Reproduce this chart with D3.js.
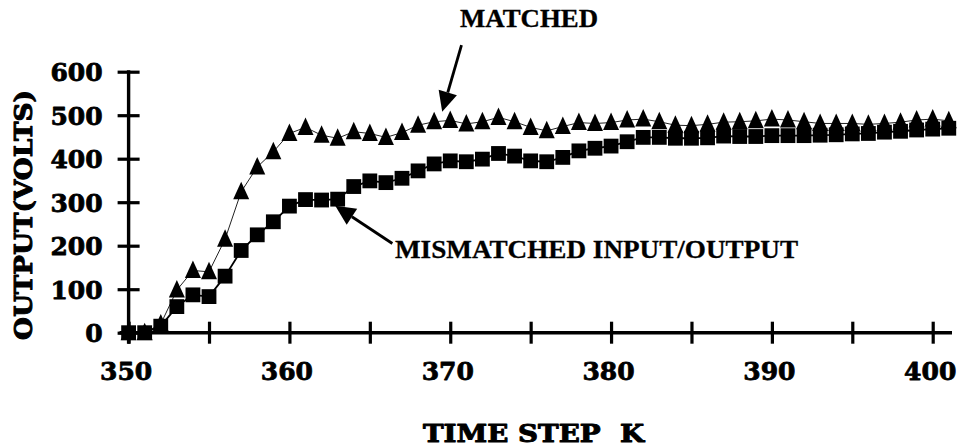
<!DOCTYPE html>
<html>
<head>
<meta charset="utf-8">
<script src="https://cdn.jsdelivr.net/npm/d3@7"></script>
<style>
  html, body { margin: 0; padding: 0; background: #fff; }
  svg { display: block; }
</style>
</head>
<body>
<svg id="chart" width="968" height="447"></svg>
<script>
// Time steps K
const steps = [350, 351, 352, 353, 354, 355, 356, 357, 358, 359,
               360, 361, 362, 363, 364, 365, 366, 367, 368, 369,
               370, 371, 372, 373, 374, 375, 376, 377, 378, 379,
               380, 381, 382, 383, 384, 385, 386, 387, 388, 389,
               390, 391, 392, 393, 394, 395, 396, 397, 398, 399,
               400, 401];

// Output (volts), matched system (triangles)
const matched = [0, 0, 20, 98, 143, 140, 215, 324, 381, 416,
                 458, 472, 454, 447, 462, 458, 449, 460, 477, 485,
                 488, 480, 485, 495, 485, 472, 464, 474, 483, 481,
                 483, 489, 491, 485, 477, 476, 479, 484, 485, 487,
                 491, 489, 485, 481, 481, 481, 479, 481, 484, 489,
                 491, 487];

// Output (volts), mismatched input/output (squares)
const mismatched = [0, 0, 15, 60, 87, 83, 130, 189, 225, 255,
                    291, 306, 305, 307, 336, 349, 345, 355, 372, 388,
                    395, 393, 399, 412, 406, 395, 393, 403, 418, 424,
                    429, 439, 449, 449, 447, 447, 448, 452, 451, 451,
                    453, 453, 453, 454, 455, 457, 458, 461, 463, 466,
                    468, 470];

const xTicks = [350, 355, 360, 365, 370, 375, 380, 385, 390, 395, 400];
const xTickLabels = [350, 360, 370, 380, 390, 400];
const yTicks = [0, 100, 200, 300, 400, 500, 600];

const svg = d3.select("#chart");
svg.append("rect").attr("width", 968).attr("height", 447).attr("fill", "#fff");

const x = d3.scaleLinear().domain([350, 400]).range([128.6, 932.7]);
const y = d3.scaleLinear().domain([0, 600]).range([332.7, 71.7]);

const numFont = "'DejaVu Serif', serif";
const lblFont = "'Liberation Serif', 'Times New Roman', serif";

// heavy slab-serif look for numbers and axis titles
function heavy(sel, w) {
  sel.attr("font-family", numFont).attr("font-weight", "bold")
     .attr("fill", "#000").attr("stroke", "#000")
     .attr("stroke-width", w).attr("stroke-linejoin", "round");
}

// ---- Axes ----
const yAxis = svg.append("g")
  .attr("transform", `translate(${x(350)},0)`)
  .call(d3.axisLeft(y).tickValues(yTicks).tickSize(11).tickPadding(0));
yAxis.select(".domain").remove();
yAxis.selectAll(".tick line")
  .attr("x1", -11).attr("x2", 11)
  .attr("stroke", "#000").attr("stroke-width", 3.2);
yAxis.selectAll(".tick text")
  .attr("x", -26).attr("dy", "0.36em")
  .attr("font-size", 25)
  .call(heavy, 0.8);

const xAxis = svg.append("g")
  .attr("transform", `translate(0,${y(0)})`)
  .call(d3.axisBottom(x).tickValues(xTicks).tickSize(11)
    .tickFormat(d => xTickLabels.includes(d) ? String(d) : ""));
xAxis.select(".domain").remove();
xAxis.selectAll(".tick line")
  .attr("y1", -11).attr("y2", 11)
  .attr("stroke", "#000").attr("stroke-width", 3.2);
xAxis.selectAll(".tick text")
  .attr("y", 47).attr("dy", 0).attr("x", -3)
  .attr("font-size", 25)
  .call(heavy, 0.8);

// axis lines
svg.append("line")
  .attr("x1", x(350)).attr("x2", x(350))
  .attr("y1", y(600) - 1.5).attr("y2", y(0) + 11)
  .attr("stroke", "#000").attr("stroke-width", 3.4);
svg.append("line")
  .attr("x1", x(350) - 9).attr("x2", x(401.2))
  .attr("y1", y(0)).attr("y2", y(0))
  .attr("stroke", "#000").attr("stroke-width", 3.4);

// ---- Series ----
const lineGen = d3.line().x((d, i) => x(steps[i])).y(d => y(d));

svg.append("path").datum(matched)
  .attr("d", lineGen)
  .attr("fill", "none").attr("stroke", "#222").attr("stroke-width", 1);

svg.append("path").datum(mismatched)
  .attr("d", lineGen)
  .attr("fill", "none").attr("stroke", "#000").attr("stroke-width", 1.8);

const triPath = "M0,-10L8,7.5L-8,7.5Z";
svg.append("g").selectAll("path")
  .data(matched)
  .join("path")
  .attr("d", triPath)
  .attr("transform", (d, i) => `translate(${x(steps[i])},${y(d)})`)
  .attr("fill", "#000");

svg.append("g").selectAll("rect")
  .data(mismatched)
  .join("rect")
  .attr("x", (d, i) => x(steps[i]) - 7.4)
  .attr("y", d => y(d) - 7.4)
  .attr("width", 14.8).attr("height", 14.8)
  .attr("fill", "#000");

// ---- Annotations ----
function arrow(from, to) {
  const x0 = x(from[0]), y0 = y(from[1]);
  const x1 = x(to[0]), y1 = y(to[1]);
  const ang = Math.atan2(y1 - y0, x1 - x0);
  const headLen = 20, headW = 9.5;
  const bx = x1 - headLen * Math.cos(ang), by = y1 - headLen * Math.sin(ang);
  svg.append("line")
    .attr("x1", x0).attr("y1", y0).attr("x2", bx).attr("y2", by)
    .attr("stroke", "#000").attr("stroke-width", 2.8);
  const px = -Math.sin(ang) * headW, py = Math.cos(ang) * headW;
  svg.append("path")
    .attr("d", `M${x1},${y1}L${bx + px},${by + py}L${bx - px},${by - py}Z`)
    .attr("fill", "#000");
}

arrow([370.7, 661], [369.5, 508]);
arrow([366.4, 205], [362.85, 292]);

svg.append("text")
  .attr("x", 460).attr("y", 27)
  .attr("font-family", lblFont).attr("font-weight", "bold")
  .attr("font-size", 25).attr("textLength", 138).attr("lengthAdjust", "spacingAndGlyphs")
  .attr("stroke", "#000").attr("stroke-width", 0.3)
  .text("MATCHED");

svg.append("text")
  .attr("x", 395).attr("y", 258)
  .attr("font-family", lblFont).attr("font-weight", "bold")
  .attr("font-size", 26).attr("textLength", 403).attr("lengthAdjust", "spacingAndGlyphs")
  .attr("stroke", "#000").attr("stroke-width", 0.3)
  .text("MISMATCHED INPUT/OUTPUT");

// ---- Axis titles ----
svg.append("text")
  .attr("transform", "translate(32,215) rotate(-90)")
  .attr("text-anchor", "middle")
  .attr("font-size", 25).attr("textLength", 250).attr("lengthAdjust", "spacingAndGlyphs")
  .call(heavy, 1)
  .text("OUTPUT(VOLTS)");

svg.append("text")
  .attr("x", 423).attr("y", 441.5)
  .attr("font-size", 25).attr("textLength", 221).attr("lengthAdjust", "spacingAndGlyphs")
  .call(heavy, 1)
  .text("TIME STEP\u00a0\u00a0K");
</script>
</body>
</html>
